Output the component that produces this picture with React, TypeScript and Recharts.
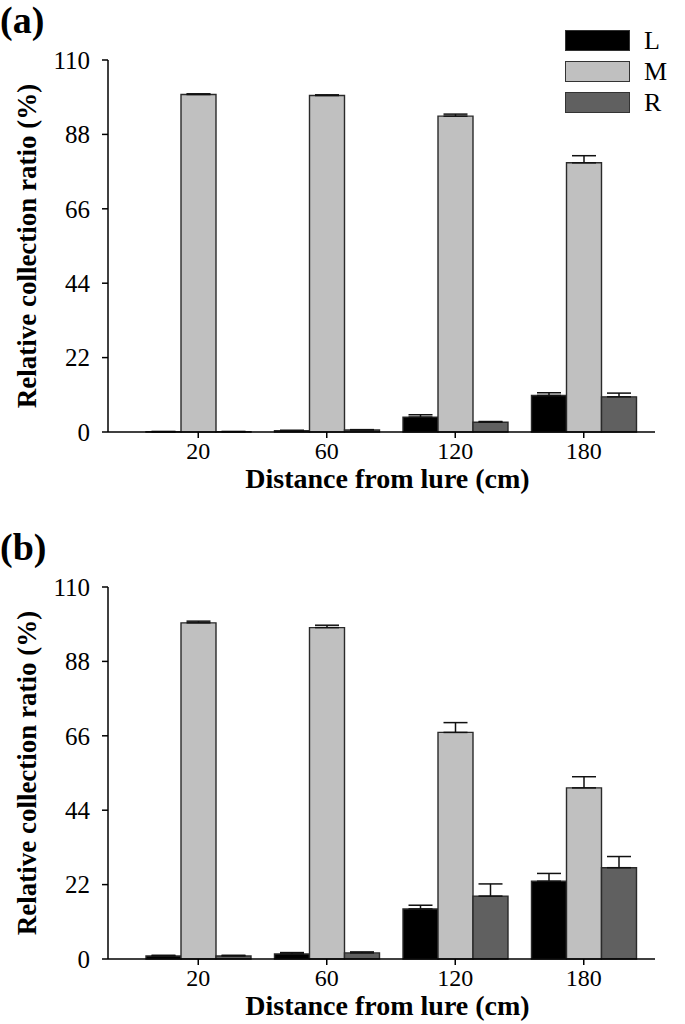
import React from 'react';
import { BarChart, Bar, XAxis, YAxis, ErrorBar } from 'recharts';

const categories = ['20', '60', '120', '180'];
const yTicks = [0, 22, 44, 66, 88, 110];

const aL = [0.1, 0.4, 4.4, 10.8];
const aLerr = [0.05, 0.1, 0.7, 0.8];
const aM = [99.8, 99.5, 93.4, 79.6];
const aMerr = [0.2, 0.2, 0.6, 2.1];
const aR = [0.1, 0.6, 2.9, 10.4];
const aRerr = [0.05, 0.1, 0.2, 1.1];

const bL = [0.9, 1.5, 14.8, 23.0];
const bLerr = [0.2, 0.4, 1.1, 2.3];
const bM = [99.4, 98.0, 67.0, 50.6];
const bMerr = [0.5, 0.7, 2.9, 3.3];
const bR = [0.9, 1.8, 18.6, 27.0];
const bRerr = [0.2, 0.3, 3.6, 3.3];

const seriesNames = ['L', 'M', 'R'];
const colors = ['#000000', '#c0c0c0', '#606060'];

const FONT = '"Liberation Serif", "Times New Roman", serif';

function build(L: number[], Le: number[], M: number[], Me: number[], R: number[], Re: number[]) {
  return categories.map((c, i) => ({
    cat: c,
    L: L[i], Lerr: [0, Le[i]],
    M: M[i], Merr: [0, Me[i]],
    R: R[i], Rerr: [0, Re[i]],
  }));
}

const dataA = build(aL, aLerr, aM, aMerr, aR, aRerr);
const dataB = build(bL, bLerr, bM, bMerr, bR, bRerr);

const LegendBox = () => (
  <div style={{ width: 118 }}>
    {seriesNames.map((n, i) => (
      <div key={n} style={{ display: 'flex', alignItems: 'center', height: 31 }}>
        <div style={{ width: 63, height: 19, background: colors[i], border: '1.5px solid #333' }} />
        <span style={{ marginLeft: 14, fontFamily: FONT, fontSize: 26, lineHeight: '26px', color: '#000' }}>{n}</span>
      </div>
    ))}
  </div>
);

const YLabel = (props: any) => {
  const vb = props.viewBox;
  const cy = vb.y + vb.height / 2;
  return (
    <text transform={`translate(27, ${cy}) rotate(-90)`} textAnchor="middle" dominantBaseline="central"
      fontFamily={FONT} fontWeight="bold" fontSize={27} fill="#000">
      Relative collection ratio (%)
    </text>
  );
};

const XLabel = (props: any) => {
  const vb = props.viewBox;
  return (
    <text x={vb.x + vb.width / 2 + 6} y={vb.y + 46} textAnchor="middle" dominantBaseline="central"
      fontFamily={FONT} fontWeight="bold" fontSize={28} fill="#000">
      Distance from lure (cm)
    </text>
  );
};

function Panel({ data, tag, showLegend }: { data: any[]; tag: string; showLegend: boolean }) {
  return (
    <div style={{ position: 'relative', width: 685, height: 500 }}>
      <div style={{ position: 'absolute', left: 0, top: 0, fontFamily: FONT, fontWeight: 'bold', fontSize: 38, lineHeight: '40px' }}>{tag}</div>
      {showLegend && (
        <div style={{ position: 'absolute', left: 565, top: 25 }}>
          <LegendBox />
        </div>
      )}
      <BarChart width={685} height={500} data={data} margin={{ top: 60, right: 30, left: 48, bottom: 8 }}
        barGap={0} barSize={35}>
        <XAxis dataKey="cat" height={60} padding={{ left: 26, right: 7 }}
          tick={{ fontFamily: FONT, fontSize: 24, fill: '#000' }}
          tickSize={6} tickMargin={4}
          axisLine={{ stroke: '#000', strokeWidth: 1.5 }} tickLine={{ stroke: '#000', strokeWidth: 1.5 }}
          label={<XLabel />} />
        <YAxis domain={[0, 110]} ticks={yTicks} width={60} interval={0}
          tick={{ fontFamily: FONT, fontSize: 25, fill: '#000' }}
          tickSize={6} tickMargin={12}
          axisLine={{ stroke: '#000', strokeWidth: 1.5 }} tickLine={{ stroke: '#000', strokeWidth: 1.5 }}
          label={<YLabel />} />
        {seriesNames.map((n, i) => (
          <Bar key={n} dataKey={n} fill={colors[i]} stroke="#2a2a2a" strokeWidth={1.4} isAnimationActive={false}>
            <ErrorBar dataKey={`${n}err`} width={12} stroke="#111" strokeWidth={1.5} direction="y" />
          </Bar>
        ))}
      </BarChart>
    </div>
  );
}

export default function App() {
  return (
    <div style={{ position: 'absolute', left: 0, top: 0, width: 685, height: 1024, background: '#fff' }}>
      <Panel data={dataA} tag="(a)" showLegend={true} />
      <div style={{ height: 27 }} />
      <Panel data={dataB} tag="(b)" showLegend={false} />
    </div>
  );
}
